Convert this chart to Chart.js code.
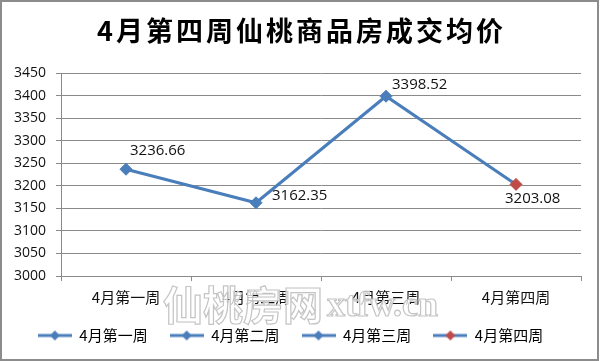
<!DOCTYPE html>
<html>
<head>
<meta charset="utf-8">
<script src="https://cdn.jsdelivr.net/npm/chart.js@4/dist/chart.umd.min.js"></script>
<style>
html,body{margin:0;padding:0;background:#fff;}
#wrap{width:600px;height:361px;position:relative;}
</style>
</head>
<body>
<div id="wrap"><canvas id="c" width="600" height="361"></canvas></div>
<script>
const titleText = '4月第四周仙桃商品房成交均价';
const categories = ['4月第一周', '4月第二周', '4月第三周', '4月第四周'];
const prices = [3236.66, 3162.35, 3398.52, 3203.08];
const yMin = 3000, yMax = 3450, yStep = 50;
const watermarkCn = '仙桃房网';
const watermarkEn = 'xtfw.cn';

const BLUE = '#4a7ebb';
const RED = '#be4b48';
const GRID = '#8a8a8a';
const pointColors = prices.map((v, i) => i === prices.length - 1 ? RED : BLUE);
const numFont = "'Open Sans', 'Noto Sans CJK SC', sans-serif";

function legendIcon(color) {
  const c = document.createElement('canvas');
  c.width = 34; c.height = 12;
  const x = c.getContext('2d');
  x.strokeStyle = BLUE; x.lineWidth = 3;
  x.beginPath(); x.moveTo(0, 6); x.lineTo(34, 6); x.stroke();
  x.fillStyle = color;
  x.beginPath(); x.moveTo(17, 1); x.lineTo(22, 6); x.lineTo(17, 11); x.lineTo(12, 6); x.closePath(); x.fill();
  return c;
}

const labelOffsets = [[4, -19, 'left'], [16, -7, 'left'], [6, -11, 'left'], [-11, 14, 'left']];

const decor = {
  id: 'decor',
  beforeDraw(chart) {
    const ctx = chart.ctx;
    ctx.save();
    ctx.fillStyle = '#fff';
    ctx.fillRect(0, 0, chart.width, chart.height);
    ctx.restore();
  },
  afterDatasetsDraw(chart) {
    const ctx = chart.ctx;
    const meta = chart.getDatasetMeta(0);
    ctx.save();
    ctx.font = "15px " + numFont;
    ctx.fillStyle = '#111';
    ctx.textBaseline = 'middle';
    meta.data.forEach((p, i) => {
      const o = labelOffsets[i];
      ctx.textAlign = o[2];
      ctx.fillText(prices[i].toFixed(2), p.x + o[0], p.y + o[1]);
    });
    ctx.restore();
  },
  afterDraw(chart) {
    const ctx = chart.ctx;
    ctx.save();
    // title
    ctx.font = "bold 27px 'Noto Sans CJK SC', sans-serif";
    ctx.fillStyle = '#000';
    ctx.textAlign = 'left';
    ctx.textBaseline = 'middle';
    try { ctx.letterSpacing = '3px'; } catch (e) {}
    const tw = ctx.measureText(titleText).width - 3;
    ctx.fillText(titleText, 300 - tw / 2, 31);
    try { ctx.letterSpacing = '0px'; } catch (e) {}
    // watermark
    ctx.textAlign = 'left';
    ctx.textBaseline = 'alphabetic';
    ctx.lineWidth = 1.2;
    ctx.strokeStyle = '#c4c4c4';
    ctx.fillStyle = 'rgba(255,255,255,0.75)';
    ctx.font = "bold 40px 'Noto Sans CJK SC', sans-serif";
    ctx.fillText(watermarkCn, 163, 320);
    ctx.strokeText(watermarkCn, 163, 320);
    ctx.font = "bold 36px 'Liberation Serif', serif";
    ctx.fillText(watermarkEn, 327, 316);
    ctx.strokeText(watermarkEn, 327, 316);
    // outer border
    ctx.strokeStyle = '#8c8c8c';
    ctx.lineWidth = 2;
    ctx.strokeRect(1, 1, chart.width - 3, chart.height - 2);
    ctx.restore();
  }
};

new Chart(document.getElementById('c'), {
  type: 'line',
  data: {
    labels: categories,
    datasets: [{
      data: prices,
      borderColor: BLUE,
      borderWidth: 3,
      pointStyle: 'rectRot',
      pointRadius: 6,
      pointBackgroundColor: pointColors,
      pointBorderColor: pointColors,
      pointBorderWidth: 1,
      tension: 0,
      fill: false
    }]
  },
  options: {
    responsive: false,
    devicePixelRatio: 1,
    animation: false,
    events: [],
    layout: { padding: { top: 73, left: 0, right: 19, bottom: 8 } },
    plugins: {
      title: { display: false },
      tooltip: { enabled: false },
      legend: {
        display: true,
        position: 'bottom',
        labels: {
          usePointStyle: true,
          pointStyleWidth: 34,
          padding: 22,
          color: '#111',
          font: { size: 15, family: "'Noto Sans CJK SC', sans-serif" },
          generateLabels() {
            return categories.map((c, i) => ({
              text: c,
              pointStyle: legendIcon(pointColors[i]),
              fillStyle: pointColors[i],
              strokeStyle: pointColors[i],
              lineWidth: 0,
              hidden: false,
              datasetIndex: 0
            }));
          }
        }
      }
    },
    scales: {
      x: {
        offset: true,
        afterFit(s) { s.height = 30; },
        grid: { offset: true, drawOnChartArea: false, drawTicks: true, tickLength: 5, color: GRID },
        border: { display: true, color: GRID, width: 1 },
        ticks: { color: '#111', padding: 7, maxRotation: 0, font: { size: 15, family: "'Noto Sans CJK SC', sans-serif" } }
      },
      y: {
        min: yMin, max: yMax,
        afterFit(s) { s.width = 61; },
        grid: { color: GRID, lineWidth: 1, tickLength: 5, drawTicks: true },
        border: { display: true, color: GRID, width: 1 },
        ticks: { stepSize: yStep, color: '#111', padding: 10, font: { size: 14, family: numFont },
          callback: (v) => String(v) }
      }
    }
  },
  plugins: [decor]
});
</script>
</body>
</html>
